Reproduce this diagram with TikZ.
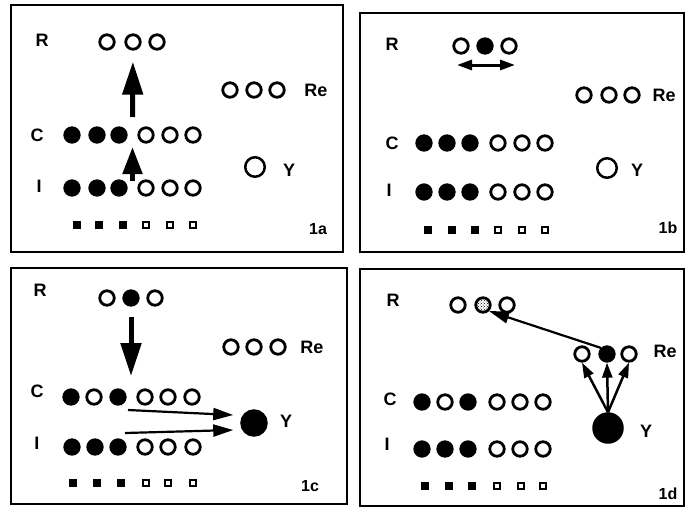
\documentclass[tikz,border=0pt]{standalone}
\usepackage{fontspec}
\setmainfont{Liberation Sans}
\usetikzlibrary{arrows.meta,calc,patterns}
\tikzset{
  panelbox/.style={draw, line width=2pt},
  dot/.style={circle, draw, line width=2.8pt, minimum size=14.5pt, inner sep=0pt},
  sq/.style={rectangle, draw, line width=1.8pt, minimum size=5.5pt, inner sep=0pt},
  ycirc/.style={circle, draw, line width=2.5pt, minimum size=19.5pt, inner sep=0pt},
  lbl/.style={font=\fontsize{18}{18}\selectfont\bfseries, inner sep=0pt},
  tag/.style={font=\fontsize{16}{16}\selectfont\bfseries, inner sep=0pt},
  bigarr/.style={-{Triangle[length=33pt,width=20pt]}, line width=5pt},
  thinarr/.style={-{Triangle[length=20pt,width=12pt]}, line width=2.2pt},
  fanarr/.style={-{Triangle[length=15pt,width=10pt]}, line width=2.5pt},
  dblarr/.style={{Triangle[length=15pt,width=10pt]}-{Triangle[length=15pt,width=10pt]}, line width=3pt},
}

\begin{document}
\begin{tikzpicture}[x=1pt, y=-1pt]
  \useasboundingbox (0,0) rectangle (685,512);

  % panel 1a
  \draw[panelbox] (11,5) rectangle (343,252);
  \node[lbl] (aRl) at (42,40) {R};
  \foreach \x/\f [count=\i] in {107/white,133/white,157/white}
    \node[dot, fill=\f] (aR\i) at (\x,42) {};
  \foreach \x/\f [count=\i] in {230/white,254/white,277/white}
    \node[dot, fill=\f] (aRe\i) at (\x,90) {};
  \node[lbl] (aRel) at (316,90) {Re};
  \node[lbl] (aCl) at (37,135) {C};
  \foreach \x/\f [count=\i] in {72/black,97/black,119/black,146/white,170/white,193/white}
    \node[dot, fill=\f] (aC\i) at (\x,135) {};
  \node[lbl] (aIl) at (39,186) {I};
  \foreach \x/\f [count=\i] in {72/black,97/black,119/black,146/white,170/white,193/white}
    \node[dot, fill=\f] (aI\i) at (\x,188) {};
  \foreach \x/\f [count=\i] in {77/black,99/black,123/black,146/white,170/white,193/white}
    \node[sq, fill=\f] (aS\i) at (\x,225) {};
  \node[ycirc, fill=white] (aY) at (255,167) {};
  \node[lbl] (aYl) at (289,170) {Y};
  \node[tag] (atag) at (318,229) {1a};
  \coordinate (aCm) at ($(aC3)!.5!(aC4)$);
  \coordinate (aIm) at ($(aI3)!.5!(aI4)$);
  \draw[bigarr, shorten <=18pt, shorten >=11pt] (aCm) -- (aR2);
  \draw[-{Triangle[length=27pt,width=19pt]}, line width=5pt, shorten <=7pt, shorten >=12pt] (aIm) -- (aCm);

  % panel 1b
  \draw[panelbox] (360,13) rectangle (684,252);
  \node[lbl] (bRl) at (392,44) {R};
  \foreach \x/\f [count=\i] in {461/white,485/black,509/white}
    \node[dot, fill=\f] (bR\i) at (\x,46) {};
  \draw[dblarr] ($(bR1)+(-4,19)$) -- ($(bR3)+(6,19)$);
  \foreach \x/\f [count=\i] in {584/white,609/white,632/white}
    \node[dot, fill=\f] (bRe\i) at (\x,95) {};
  \node[lbl] (bRel) at (664,95) {Re};
  \node[lbl] (bCl) at (392,143) {C};
  \foreach \x/\f [count=\i] in {424/black,447/black,470/black,498/white,522/white,545/white}
    \node[dot, fill=\f] (bC\i) at (\x,143) {};
  \node[lbl] (bIl) at (389,190) {I};
  \foreach \x/\f [count=\i] in {424/black,447/black,470/black,498/white,522/white,545/white}
    \node[dot, fill=\f] (bI\i) at (\x,192) {};
  \foreach \x/\f [count=\i] in {428/black,452/black,475/black,498/white,522/white,545/white}
    \node[sq, fill=\f] (bS\i) at (\x,230) {};
  \node[ycirc, fill=white] (bY) at (607,168) {};
  \node[lbl] (bYl) at (637,170) {Y};
  \node[tag] (btag) at (668,228) {1b};

  % panel 1c
  \draw[panelbox] (11,268) rectangle (347,504);
  \node[lbl] (cRl) at (40,290) {R};
  \foreach \x/\f [count=\i] in {107/white,131/black,155/white}
    \node[dot, fill=\f] (cR\i) at (\x,298) {};
  \foreach \x/\f [count=\i] in {231/white,254/white,278/white}
    \node[dot, fill=\f] (cRe\i) at (\x,347) {};
  \node[lbl] (cRel) at (312,347) {Re};
  \node[lbl] (cCl) at (37,391) {C};
  \foreach \x/\f [count=\i] in {71/black,94/white,118/black,145/white,168/white,192/white}
    \node[dot, fill=\f] (cC\i) at (\x,397) {};
  \node[lbl] (cIl) at (37,443) {I};
  \foreach \x/\f [count=\i] in {72/black,95/black,118/black,145/white,168/white,193/white}
    \node[dot, fill=\f] (cI\i) at (\x,447) {};
  \foreach \x/\f [count=\i] in {73/black,97/black,121/black,146/white,168/white,193/white}
    \node[sq, fill=\f] (cS\i) at (\x,483) {};
  \node[ycirc, fill=black, minimum size=25pt] (cY) at (254,423) {};
  \node[lbl] (cYl) at (286,421) {Y};
  \node[tag] (ctag) at (310,486) {1c};
  \draw[bigarr, shorten <=10pt, shorten >=21pt] (cR2) -- (cR2 |- cC3);
  \draw[thinarr] ($(cC3)+(10,13)$) -- ($(cY.west)+(-7,-8)$);
  \draw[thinarr] ($(cI3)+(7,-14)$) -- ($(cY.west)+(-7,7)$);

  % panel 1d
  \draw[panelbox] (360,269) rectangle (684,506);
  \node[lbl] (dRl) at (393,300) {R};
  \node[dot, fill=white] (dR1) at (458,305) {};
  \node[dot, fill=white, pattern=crosshatch dots, pattern color=black] (dR2) at (483,305) {};
  \node[dot, fill=white] (dR3) at (507,305) {};
  \foreach \x/\f [count=\i] in {582/white,607/black,629/white}
    \node[dot, fill=\f] (dRe\i) at (\x,354) {};
  \node[lbl] (dRel) at (665,351) {Re};
  \node[lbl] (dCl) at (390,399) {C};
  \foreach \x/\f [count=\i] in {422/black,445/white,468/black,497/white,520/white,543/white}
    \node[dot, fill=\f] (dC\i) at (\x,402) {};
  \node[lbl] (dIl) at (387,444) {I};
  \foreach \x/\f [count=\i] in {422/black,445/black,468/black,497/white,520/white,543/white}
    \node[dot, fill=\f] (dI\i) at (\x,449) {};
  \foreach \x/\f [count=\i] in {425/black,449/black,472/black,497/white,521/white,543/white}
    \node[sq, fill=\f] (dS\i) at (\x,486) {};
  \node[ycirc, fill=black, minimum size=29pt] (dY) at (608,428) {};
  \node[lbl] (dYl) at (646,431) {Y};
  \node[tag] (dtag) at (668,494) {1d};
  \draw[thinarr] (dRe2.north west) -- (dR2.south east);
  \foreach \i in {1,2,3}
    \draw[fanarr] (dY.north) -- (dRe\i.south);
\end{tikzpicture}
\end{document}
